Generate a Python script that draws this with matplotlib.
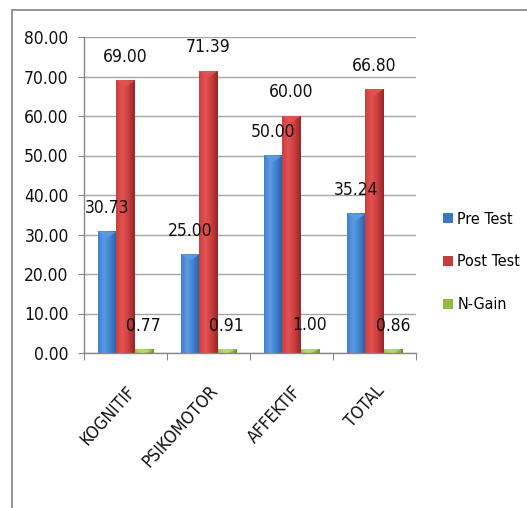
import numpy as np
import matplotlib
matplotlib.use("Agg")
import matplotlib.pyplot as plt
from matplotlib.colors import LinearSegmentedColormap
from matplotlib.patches import Patch, Polygon
from matplotlib.lines import Line2D

plt.rcParams['font.family'] = ['DejaVu Sans']
plt.rcParams['font.stretch'] = 'condensed'

categories = ["KOGNITIF", "PSIKOMOTOR", "AFFEKTIF", "TOTAL"]
pre_test = [30.73, 25.00, 50.00, 35.24]
post_test = [69.00, 71.39, 60.00, 66.80]
n_gain = [0.77, 0.91, 1.00, 0.86]
series_names = ["Pre Test", "Post Test", "N-Gain"]
y_ticks = [0, 10, 20, 30, 40, 50, 60, 70, 80]

# light -> mid -> dark shading for each series
shades = [
    ("#5b9be3", "#3e7fcf", "#2a5f9f"),
    ("#e25454", "#cc3d3d", "#932727"),
    ("#b5dd6a", "#98c24a", "#6e9130"),
]
legend_colors = ["#3a78c4", "#c83b3b", "#8fbb3f"]
FS = 12.5

fig = plt.figure(figsize=(5.27, 5.08), dpi=100)
ax = fig.add_axes([84 / 527, 1 - 353 / 508, 332 / 527, 316 / 508])

x = np.arange(len(categories))
w = 0.22
series = [pre_test, post_test, n_gain]
offsets = [-w, 0.0, w]

grad = np.linspace(0, 1, 64).reshape(1, -1)
for s, (vals, off) in enumerate(zip(series, offsets)):
    cmap = LinearSegmentedColormap.from_list(f"s{s}", [shades[s][1], shades[s][0], shades[s][1], shades[s][2]])
    for xi, v in zip(x, vals):
        left = xi + off - w / 2
        right = xi + off + w / 2
        ax.imshow(grad, cmap=cmap, aspect="auto", extent=(left, right, 0, v),
                  zorder=2, interpolation="bilinear")
        # small bevel on the bar top
        bev = min(1.6, v)
        ax.add_patch(Polygon([(left, v), (right, v), (xi + off, v - bev)],
                             closed=True, facecolor=shades[s][0], edgecolor="none",
                             alpha=0.9, zorder=3))
        ax.annotate(f"{v:.2f}", (xi + off, v), xytext=(0, 17), textcoords="offset points",
                    ha="center", va="center", fontsize=FS, color="#111111", zorder=5)

ax.set_xlim(-0.5, len(categories) - 0.5)
ax.set_ylim(0, 80)
ax.set_yticks(y_ticks)
ax.set_yticklabels([f"{t:.2f}" for t in y_ticks], fontsize=FS, color="#111111")
ax.yaxis.grid(True, color="#a6a6a6", linewidth=1.0, zorder=0)
ax.set_axisbelow(True)

ax.set_xticks(np.arange(len(categories) + 1) - 0.5, minor=False)
ax.set_xticklabels([])
ax.set_xticks(x, minor=True)
ax.set_xticklabels(categories, minor=True, rotation=48, ha="right", va="top",
                   rotation_mode="anchor", fontsize=FS, color="#111111")
ax.tick_params(axis="x", which="minor", length=0, pad=21)
ax.tick_params(axis="x", which="major", length=5, color="#888888", direction="out")
ax.tick_params(axis="y", length=4, color="#888888", pad=7)

for side in ["top", "right"]:
    ax.spines[side].set_visible(False)
for side in ["left", "bottom"]:
    ax.spines[side].set_color("#888888")
    ax.spines[side].set_linewidth(1.0)

handles = [Patch(facecolor=c, edgecolor="none") for c in legend_colors]
fig.legend(handles, series_names, loc="center left", bbox_to_anchor=(443 / 527, 1 - 262 / 508),
           frameon=False, fontsize=11.5, handlelength=0.6, handleheight=0.6,
           handletextpad=0.3, labelspacing=1.75, borderaxespad=0, borderpad=0)

# outer chart frame
fig.add_artist(Line2D([12 / 527, 12 / 527], [0, 1 - 10 / 508], transform=fig.transFigure,
                      color="#8c8c8c", linewidth=1.3))
fig.add_artist(Line2D([12 / 527, 1], [1 - 10 / 508, 1 - 10 / 508], transform=fig.transFigure,
                      color="#8c8c8c", linewidth=1.3))

fig.text(10 / 527, 1 + 4 / 508, "berikut.", fontsize=15, family="Liberation Serif",
         ha="left", va="center", color="black")

fig.savefig("out.png", dpi=100)
